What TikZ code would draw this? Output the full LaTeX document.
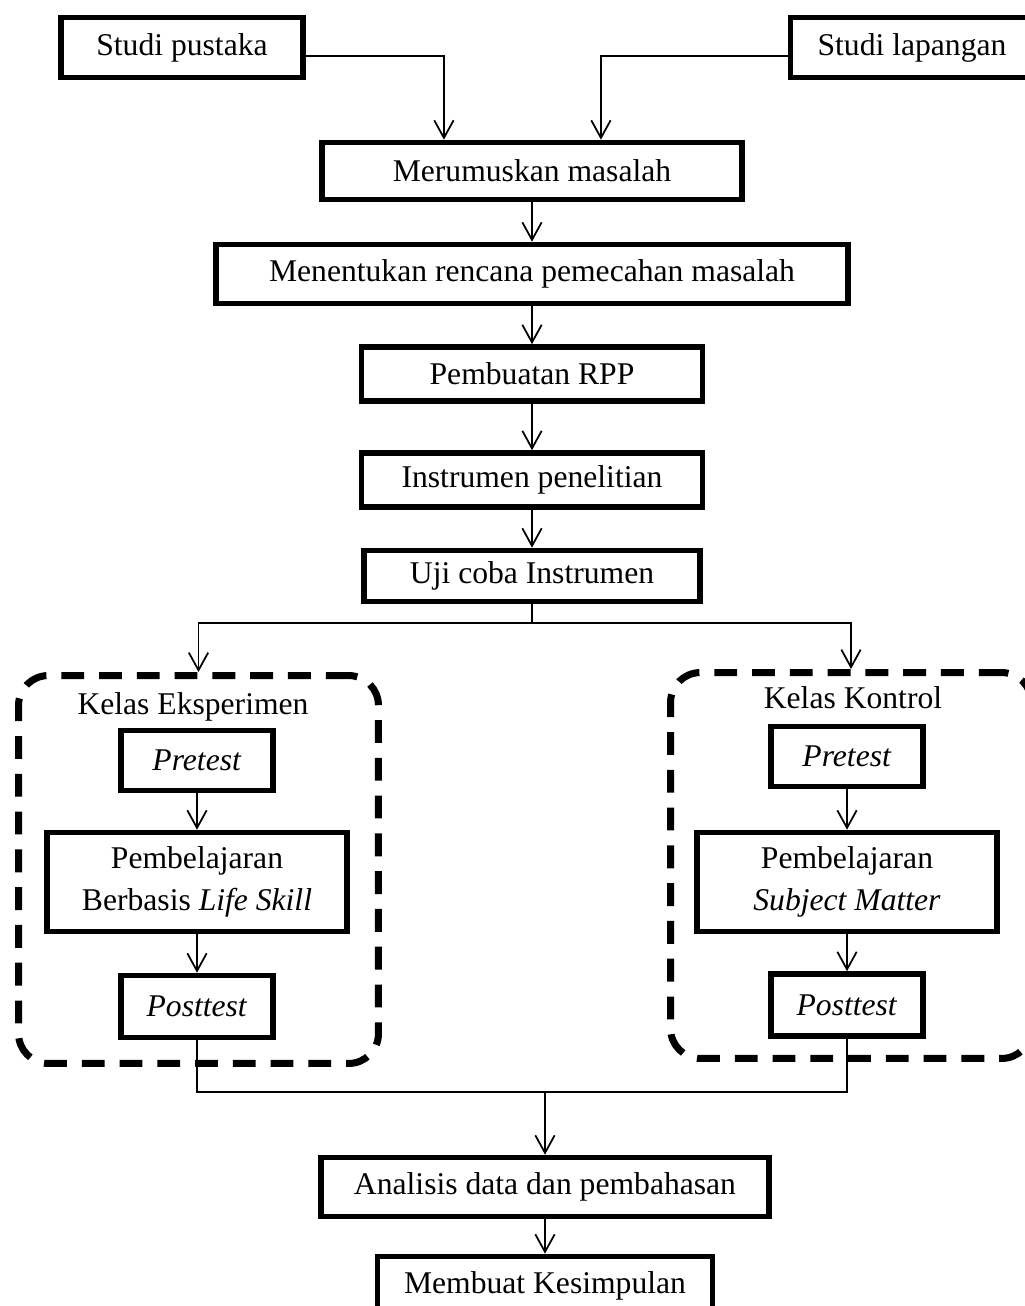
\documentclass[tikz,border=0pt]{standalone}
\usepackage{fontspec}
\setmainfont{Liberation Serif}
\usetikzlibrary{arrows.meta}
\usetikzlibrary{calc}

\begin{document}
\begin{tikzpicture}[x=0.02cm,y=-0.02cm,
	font=\fontsize{18}{24}\selectfont,
	kotak/.style={draw,line width=3.2pt,align=center,inner sep=0pt,fill=white},
	kelompok/.style={draw,line width=4pt,dash pattern=on 13pt off 8.5pt,rounded corners=17pt},
	panah/.style={-{Straight Barb[length=10pt,width=11pt]},line width=1pt},
	garis/.style={line width=1pt}]

	\useasboundingbox (0,0) rectangle (1025,1306);
	\clip (0,0) rectangle (1025,1306);

	% kelompok kelas
	\node[kelompok,minimum width=7.2cm,minimum height=7.76cm] (eksp) at (198.5,869.5) {};
	\node[kelompok,minimum width=7.22cm,minimum height=7.72cm] (kontrol) at (851,865.5) {};
	\node (labeleksp) at (193,707) {Kelas Eksperimen};
	\node (labelkontrol) at (853,698) {Kelas Kontrol};

	\node[kotak,minimum width=4.84cm,minimum height=1.2cm] (pustaka) at (182,47.5) {Studi pustaka};
	\node[kotak,minimum width=4.86cm,minimum height=1.2cm] (lapangan) at (912,47.5) {Studi lapangan};
	\node[kotak,minimum width=8.4cm,minimum height=1.14cm] (merumuskan) at (532,171) {Merumuskan masalah};
	\node[kotak,minimum width=12.64cm,minimum height=1.18cm] (menentukan) at (532,274) {Menentukan rencana pemecahan masalah};
	\node[kotak,minimum width=6.82cm,minimum height=1.08cm] (rpp) at (532,374) {Pembuatan RPP};
	\node[kotak,minimum width=6.82cm,minimum height=1.08cm] (instrumen) at (532,480) {Instrumen penelitian};
	\node[kotak,minimum width=6.72cm,minimum height=1.02cm] (ujicoba) at (532,576) {Uji coba Instrumen};

	\node[kotak,minimum width=3.04cm,minimum height=1.2cm] (pre1) at (197,760.5) {\textit{Pretest}};
	\node[kotak,minimum width=6cm,minimum height=1.98cm] (pembel1) at (197,882) {Pembelajaran\\Berbasis \textit{Life Skill}};
	\node[kotak,minimum width=3.04cm,minimum height=1.24cm] (post1) at (197,1006.5) {\textit{Posttest}};

	\node[kotak,minimum width=3.04cm,minimum height=1.2cm] (pre2) at (847,756.5) {\textit{Pretest}};
	\node[kotak,minimum width=6cm,minimum height=1.98cm] (pembel2) at (847,882) {Pembelajaran\\\textit{Subject Matter}};
	\node[kotak,minimum width=3.04cm,minimum height=1.24cm] (post2) at (847,1005) {\textit{Posttest}};

	\node[kotak,minimum width=8.96cm,minimum height=1.18cm] (analisis) at (545,1187) {Analisis data dan pembahasan};
	\node[kotak,minimum width=6.7cm,minimum height=1.18cm] (kesimpulan) at (545,1286) {Membuat Kesimpulan};

	\coordinate (cabang) at (532,623);
	\coordinate (gabung) at (545,1092);

	\draw[panah] ([yshift=-0.17cm]pustaka.east) -| ($(merumuskan.north west)!0.293!(merumuskan.north east)$);
	\draw[panah] ([yshift=-0.17cm]lapangan.west) -| ($(merumuskan.north west)!0.662!(merumuskan.north east)$);
	\draw[panah] (merumuskan) -- (menentukan);
	\draw[panah] (menentukan) -- (rpp);
	\draw[panah] (rpp) -- (instrumen);
	\draw[panah] (instrumen) -- (ujicoba);

	\draw[garis] (ujicoba) -- (cabang);
	\draw[panah] (cabang) -| (eksp);
	\draw[panah] (cabang) -| (kontrol);

	\draw[panah] (pre1) -- (pembel1);
	\draw[panah] (pembel1) -- (post1);
	\draw[panah] (pre2) -- (pembel2);
	\draw[panah] (pembel2) -- (post2);

	\draw[garis] (post1) |- (gabung) -| (post2);
	\draw[panah] (gabung) -- (analisis);
	\draw[panah] (analisis) -- (kesimpulan);

\end{tikzpicture}
\end{document}
